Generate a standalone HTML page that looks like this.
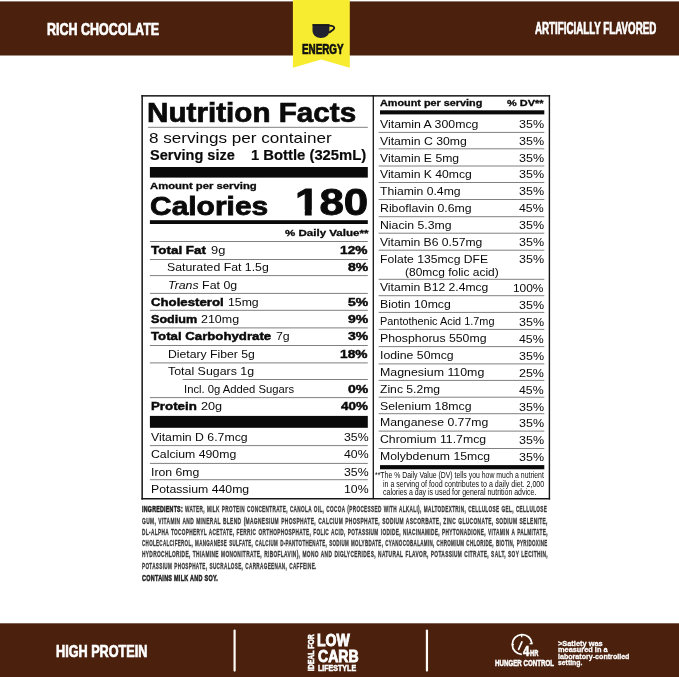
<!DOCTYPE html>
<html lang="en"><head><meta charset="utf-8"><title>Nutrition Facts</title>
<style>
html,body{margin:0;padding:0;background:#fff;}
body{width:679px;height:677px;position:relative;overflow:hidden;font-family:"Liberation Sans",sans-serif;}
.t{position:absolute;white-space:nowrap;line-height:1;display:block;transform-origin:0 0;}
.t b{font-weight:700;}
svg{position:absolute;display:block;overflow:visible;}
</style></head>
<body>

<svg style="left:0;top:0" width="679" height="677" viewBox="0 0 679 677">
  <rect x="0.00" y="1.40" width="679.00" height="54.10" fill="#4b210e"/>
  <rect x="0.00" y="623.30" width="679.00" height="53.70" fill="#4b210e"/>
  <rect x="141.40" y="95.10" width="408.70" height="1.50" fill="#161616"/>
  <rect x="141.40" y="498.00" width="408.70" height="1.50" fill="#161616"/>
  <rect x="141.40" y="95.10" width="1.50" height="404.40" fill="#161616"/>
  <rect x="548.70" y="95.10" width="1.40" height="404.40" fill="#161616"/>
  <rect x="372.65" y="95.10" width="1.30" height="404.00" fill="#161616"/>
  <rect x="148.00" y="126.80" width="219.80" height="1.00" fill="#808080"/>
  <rect x="149.90" y="167.00" width="217.90" height="10.60" fill="#0a0a0a"/>
  <rect x="149.90" y="220.20" width="217.90" height="3.80" fill="#0a0a0a"/>
  <rect x="149.90" y="241.00" width="217.90" height="1.00" fill="#808080"/>
  <rect x="149.90" y="259.00" width="217.90" height="1.00" fill="#808080"/>
  <rect x="149.90" y="275.10" width="217.90" height="1.00" fill="#808080"/>
  <rect x="149.90" y="292.90" width="217.90" height="1.00" fill="#808080"/>
  <rect x="149.90" y="309.80" width="217.90" height="1.00" fill="#808080"/>
  <rect x="149.90" y="327.40" width="217.90" height="1.00" fill="#808080"/>
  <rect x="149.90" y="345.00" width="217.90" height="1.00" fill="#808080"/>
  <rect x="149.90" y="362.40" width="217.90" height="1.00" fill="#808080"/>
  <rect x="182.70" y="379.00" width="185.10" height="1.00" fill="#808080"/>
  <rect x="149.90" y="397.10" width="217.90" height="1.00" fill="#808080"/>
  <rect x="149.90" y="415.90" width="217.90" height="11.90" fill="#0a0a0a"/>
  <rect x="149.90" y="445.10" width="217.90" height="1.00" fill="#808080"/>
  <rect x="149.90" y="462.90" width="217.90" height="1.00" fill="#808080"/>
  <rect x="149.90" y="479.20" width="217.90" height="1.00" fill="#808080"/>
  <rect x="380.00" y="110.30" width="164.30" height="4.10" fill="#0a0a0a"/>
  <rect x="378.60" y="131.90" width="165.70" height="1.00" fill="#808080"/>
  <rect x="378.60" y="148.30" width="165.70" height="1.00" fill="#808080"/>
  <rect x="378.60" y="165.50" width="165.70" height="1.00" fill="#808080"/>
  <rect x="378.60" y="182.00" width="165.70" height="1.00" fill="#808080"/>
  <rect x="378.60" y="199.00" width="165.70" height="1.00" fill="#808080"/>
  <rect x="378.60" y="216.20" width="165.70" height="1.00" fill="#808080"/>
  <rect x="378.60" y="232.70" width="165.70" height="1.00" fill="#808080"/>
  <rect x="378.60" y="249.70" width="165.70" height="1.00" fill="#808080"/>
  <rect x="378.60" y="278.80" width="165.70" height="1.00" fill="#808080"/>
  <rect x="378.60" y="295.20" width="165.70" height="1.00" fill="#808080"/>
  <rect x="378.60" y="311.90" width="165.70" height="1.00" fill="#808080"/>
  <rect x="378.60" y="328.90" width="165.70" height="1.00" fill="#808080"/>
  <rect x="378.60" y="346.10" width="165.70" height="1.00" fill="#808080"/>
  <rect x="378.60" y="363.40" width="165.70" height="1.00" fill="#808080"/>
  <rect x="378.60" y="379.90" width="165.70" height="1.00" fill="#808080"/>
  <rect x="378.60" y="396.70" width="165.70" height="1.00" fill="#808080"/>
  <rect x="378.60" y="413.20" width="165.70" height="1.00" fill="#808080"/>
  <rect x="378.60" y="430.60" width="165.70" height="1.00" fill="#808080"/>
  <rect x="378.60" y="448.00" width="165.70" height="1.00" fill="#808080"/>
  <rect x="380.00" y="465.10" width="164.30" height="4.20" fill="#0a0a0a"/>

  <polygon points="292.9,0 349.8,0 349.8,67.7 321.2,59.5 292.9,67.7" fill="#f7ec2f"/>
  <!-- cup -->
  <g>
    <path d="M312.5,24.3 H329.4 V30.4 C329.4,35 325.6,37.9 320.95,37.9 C316.3,37.9 312.5,35 312.5,30.4 Z" fill="#222130"/>
    <path d="M312.5,24.9 H329.4" stroke="#111" stroke-width="1.2" fill="none"/>
    <path d="M329,25.6 L331.8,25.9 C334.3,26.3 334.9,28.1 333.4,29.4 L329,32.8" fill="none" stroke="#19181f" stroke-width="1.9" stroke-linejoin="round"/>
  </g>
  <rect x="233.5" y="629.4" width="2.2" height="42.3" rx="1.1" fill="#fffaf5"/>
  <rect x="425.85" y="629.4" width="2.2" height="42.3" rx="1.1" fill="#fffaf5"/>
  <!-- clock -->
  <g fill="none" stroke="#fff" stroke-width="1.8" stroke-linecap="butt">
    <path d="M521.8,654.4 A9.9,9.9 0 1 1 532,643.6"/>
    <path d="M521.7,634.6 L521.7,637.2" stroke-width="1.3"/>
    <path d="M529.6,643.7 L532.6,643.7" stroke-width="1.3"/>
    <path d="M512,644.6 L514,644.6" stroke-width="1.2"/>
    <path d="M518.6,649.4 L521.9,641.8" stroke-width="1.7" stroke-linecap="round"/>
  </g>
  <text transform="translate(313.8,671.2) rotate(-90)" font-family="Liberation Sans, sans-serif" font-weight="700" font-size="8.9" fill="#fff" stroke="#fff" stroke-width="0.5" textLength="37" lengthAdjust="spacingAndGlyphs">IDEAL FOR</text>
</svg>
<span class="t" style="left:47.23px;top:22px;font-size:16.6px;color:#ffffff;font-weight:700;-webkit-text-stroke:0.7px #ffffff;transform:scaleX(0.7524);">RICH CHOCOLATE</span>
<span class="t" style="left:534.81px;top:21px;font-size:16.0px;color:#ffffff;font-weight:700;-webkit-text-stroke:0.7px #ffffff;transform:scaleX(0.6101);">ARTIFICIALLY FLAVORED</span>
<span class="t" style="left:301.50px;top:42px;font-size:14.2px;color:#111;font-weight:700;-webkit-text-stroke:0.7px #111;transform:scaleX(0.6943);">ENERGY</span>
<span class="t" style="left:56.33px;top:643px;font-size:16.4px;color:#ffffff;font-weight:700;-webkit-text-stroke:0.7px #ffffff;transform:scaleX(0.7723);">HIGH PROTEIN</span>
<span class="t" style="left:317.43px;top:632px;font-size:17.1px;color:#ffffff;font-weight:700;-webkit-text-stroke:0.9px #ffffff;transform:scaleX(0.8201);">LOW</span>
<span class="t" style="left:317.78px;top:648px;font-size:17.1px;color:#ffffff;font-weight:700;-webkit-text-stroke:0.9px #ffffff;transform:scaleX(0.8217);">CARB</span>
<span class="t" style="left:317.78px;top:664px;font-size:8.4px;color:#ffffff;font-weight:700;-webkit-text-stroke:0.5px #ffffff;transform:scaleX(0.8440);">LIFESTYLE</span>
<span class="t" style="left:494.71px;top:659px;font-size:8.4px;color:#ffffff;font-weight:700;-webkit-text-stroke:0.5px #ffffff;transform:scaleX(0.7377);">HUNGER CONTROL</span>
<span class="t" style="left:523.16px;top:644px;font-size:14.4px;color:#ffffff;font-weight:700;-webkit-text-stroke:0.6px #ffffff;transform:scaleX(0.7954);">4</span>
<span class="t" style="left:530.32px;top:649px;font-size:8.8px;color:#ffffff;font-weight:700;-webkit-text-stroke:0.5px #ffffff;transform:scaleX(0.6536);">HR</span>
<span class="t" style="left:557.64px;top:640px;font-size:7.9px;color:#ffffff;font-weight:700;-webkit-text-stroke:0.3px #ffffff;transform:scaleX(0.9378);">&gt;Satiety was</span>
<span class="t" style="left:557.70px;top:646px;font-size:7.9px;color:#ffffff;font-weight:700;-webkit-text-stroke:0.3px #ffffff;transform:scaleX(0.9333);">measured in a</span>
<span class="t" style="left:557.69px;top:653px;font-size:7.9px;color:#ffffff;font-weight:700;-webkit-text-stroke:0.3px #ffffff;transform:scaleX(0.9005);">laboratory-controlled</span>
<span class="t" style="left:557.65px;top:659px;font-size:7.9px;color:#ffffff;font-weight:700;-webkit-text-stroke:0.3px #ffffff;transform:scaleX(0.8674);">setting.</span>
<span class="t" style="left:146.98px;top:99px;font-size:27.4px;color:#0a0a0a;font-weight:700;-webkit-text-stroke:0.7px #0a0a0a;transform:scaleX(1.0825);">Nutrition Facts</span>
<span class="t" style="left:149.48px;top:131px;font-size:14.4px;color:#0a0a0a;transform:scaleX(1.1894);">8 servings per container</span>
<span class="t" style="left:149.51px;top:148px;font-size:14.9px;color:#0a0a0a;font-weight:700;-webkit-text-stroke:0.2px #0a0a0a;transform:scaleX(0.9759);">Serving size</span>
<span class="t" style="left:251.02px;top:148px;font-size:14.9px;color:#0a0a0a;font-weight:700;-webkit-text-stroke:0.2px #0a0a0a;transform:scaleX(0.9950);">1 Bottle (325mL)</span>
<span class="t" style="left:149.58px;top:181px;font-size:9.4px;color:#0a0a0a;font-weight:700;-webkit-text-stroke:0.3px #0a0a0a;transform:scaleX(1.2050);">Amount per serving</span>
<span class="t" style="left:150.15px;top:193px;font-size:26.5px;color:#0a0a0a;font-weight:700;-webkit-text-stroke:0.8px #0a0a0a;transform:scaleX(1.1302);">Calories</span>
<span class="t" style="left:294.66px;top:184px;font-size:37.4px;color:#0a0a0a;font-weight:700;-webkit-text-stroke:0.9px #0a0a0a;transform:scaleX(1.1740);">180</span>
<span class="t" style="left:284.53px;top:228px;font-size:9.4px;color:#0a0a0a;font-weight:700;-webkit-text-stroke:0.3px #0a0a0a;transform:scaleX(1.2311);">% Daily Value**</span>
<span class="t" style="left:151.42px;top:245px;font-size:11.4px;color:#0a0a0a;font-weight:700;-webkit-text-stroke:0.45px #0a0a0a;transform:scaleX(1.1801);">Total Fat</span>
<span class="t" style="left:210.84px;top:245px;font-size:11.8px;color:#0a0a0a;transform:scaleX(1.0889);">9g</span>
<span class="t" style="left:340.22px;top:245px;font-size:11.4px;color:#0a0a0a;font-weight:700;-webkit-text-stroke:0.45px #0a0a0a;transform:scaleX(1.2041);">12%</span>
<span class="t" style="left:167.31px;top:262px;font-size:11.8px;color:#0a0a0a;transform:scaleX(1.0411);">Saturated Fat 1.5g</span>
<span class="t" style="left:347.61px;top:262px;font-size:11.4px;color:#0a0a0a;font-weight:700;-webkit-text-stroke:0.45px #0a0a0a;transform:scaleX(1.2267);">8%</span>
<span class="t" style="left:167.85px;top:280px;font-size:11.8px;color:#0a0a0a;transform:scaleX(1.0472);"><i>Trans</i> Fat 0g</span>
<span class="t" style="left:150.95px;top:297px;font-size:11.4px;color:#0a0a0a;font-weight:700;-webkit-text-stroke:0.45px #0a0a0a;transform:scaleX(1.1589);">Cholesterol</span>
<span class="t" style="left:227.53px;top:297px;font-size:11.8px;color:#0a0a0a;transform:scaleX(1.0388);">15mg</span>
<span class="t" style="left:347.59px;top:297px;font-size:11.4px;color:#0a0a0a;font-weight:700;-webkit-text-stroke:0.45px #0a0a0a;transform:scaleX(1.2279);">5%</span>
<span class="t" style="left:151.04px;top:314px;font-size:11.4px;color:#0a0a0a;font-weight:700;-webkit-text-stroke:0.45px #0a0a0a;transform:scaleX(1.1076);">Sodium</span>
<span class="t" style="left:201.05px;top:314px;font-size:11.8px;color:#0a0a0a;transform:scaleX(1.0564);">210mg</span>
<span class="t" style="left:347.58px;top:314px;font-size:11.4px;color:#0a0a0a;font-weight:700;-webkit-text-stroke:0.45px #0a0a0a;transform:scaleX(1.2285);">9%</span>
<span class="t" style="left:151.41px;top:331px;font-size:11.4px;color:#0a0a0a;font-weight:700;-webkit-text-stroke:0.45px #0a0a0a;transform:scaleX(1.1601);">Total Carbohydrate</span>
<span class="t" style="left:276.16px;top:331px;font-size:11.8px;color:#0a0a0a;transform:scaleX(1.0470);">7g</span>
<span class="t" style="left:347.58px;top:331px;font-size:11.4px;color:#0a0a0a;font-weight:700;-webkit-text-stroke:0.45px #0a0a0a;transform:scaleX(1.2288);">3%</span>
<span class="t" style="left:167.56px;top:349px;font-size:11.8px;color:#0a0a0a;transform:scaleX(1.0354);">Dietary Fiber 5g</span>
<span class="t" style="left:340.22px;top:349px;font-size:11.4px;color:#0a0a0a;font-weight:700;-webkit-text-stroke:0.45px #0a0a0a;transform:scaleX(1.2041);">18%</span>
<span class="t" style="left:167.82px;top:366px;font-size:11.8px;color:#0a0a0a;transform:scaleX(1.0506);">Total Sugars 1g</span>
<span class="t" style="left:184.24px;top:384px;font-size:11.8px;color:#0a0a0a;transform:scaleX(0.9546);">Incl. 0g Added Sugars</span>
<span class="t" style="left:347.56px;top:384px;font-size:11.4px;color:#0a0a0a;font-weight:700;-webkit-text-stroke:0.45px #0a0a0a;transform:scaleX(1.2297);">0%</span>
<span class="t" style="left:150.81px;top:401px;font-size:11.4px;color:#0a0a0a;font-weight:700;-webkit-text-stroke:0.45px #0a0a0a;transform:scaleX(1.1664);">Protein</span>
<span class="t" style="left:200.53px;top:401px;font-size:11.8px;color:#0a0a0a;transform:scaleX(1.0756);">20g</span>
<span class="t" style="left:340.76px;top:401px;font-size:11.4px;color:#0a0a0a;font-weight:700;-webkit-text-stroke:0.45px #0a0a0a;transform:scaleX(1.1804);">40%</span>
<span class="t" style="left:151.42px;top:432px;font-size:11.8px;color:#0a0a0a;transform:scaleX(1.0400);">Vitamin D 6.7mcg</span>
<span class="t" style="left:343.74px;top:432px;font-size:11.8px;color:#0a0a0a;transform:scaleX(1.0400);">35%</span>
<span class="t" style="left:151.03px;top:449px;font-size:11.8px;color:#0a0a0a;transform:scaleX(1.0400);">Calcium 490mg</span>
<span class="t" style="left:343.74px;top:449px;font-size:11.8px;color:#0a0a0a;transform:scaleX(1.0400);">40%</span>
<span class="t" style="left:150.54px;top:467px;font-size:11.8px;color:#0a0a0a;transform:scaleX(1.0400);">Iron 6mg</span>
<span class="t" style="left:343.74px;top:467px;font-size:11.8px;color:#0a0a0a;transform:scaleX(1.0400);">35%</span>
<span class="t" style="left:150.66px;top:484px;font-size:11.8px;color:#0a0a0a;transform:scaleX(1.0400);">Potassium 440mg</span>
<span class="t" style="left:343.74px;top:484px;font-size:11.8px;color:#0a0a0a;transform:scaleX(1.0400);">10%</span>
<span class="t" style="left:379.90px;top:98px;font-size:9.4px;color:#0a0a0a;font-weight:700;-webkit-text-stroke:0.3px #0a0a0a;transform:scaleX(1.1548);">Amount per serving</span>
<span class="t" style="left:507.44px;top:98px;font-size:9.4px;color:#0a0a0a;font-weight:700;-webkit-text-stroke:0.3px #0a0a0a;transform:scaleX(1.1661);">% DV**</span>
<span class="t" style="left:380.42px;top:119px;font-size:11.8px;color:#0a0a0a;transform:scaleX(1.0446);">Vitamin A 300mcg</span>
<span class="t" style="left:519.07px;top:119px;font-size:11.8px;color:#0a0a0a;transform:scaleX(1.0608);">35%</span>
<span class="t" style="left:380.42px;top:136px;font-size:11.8px;color:#0a0a0a;transform:scaleX(1.0371);">Vitamin C 30mg</span>
<span class="t" style="left:519.07px;top:136px;font-size:11.8px;color:#0a0a0a;transform:scaleX(1.0608);">35%</span>
<span class="t" style="left:380.42px;top:153px;font-size:11.8px;color:#0a0a0a;transform:scaleX(1.0347);">Vitamin E 5mg</span>
<span class="t" style="left:519.07px;top:153px;font-size:11.8px;color:#0a0a0a;transform:scaleX(1.0608);">35%</span>
<span class="t" style="left:380.42px;top:169px;font-size:11.8px;color:#0a0a0a;transform:scaleX(1.0330);">Vitamin K 40mcg</span>
<span class="t" style="left:519.07px;top:169px;font-size:11.8px;color:#0a0a0a;transform:scaleX(1.0608);">35%</span>
<span class="t" style="left:380.23px;top:186px;font-size:11.8px;color:#0a0a0a;transform:scaleX(1.0324);">Thiamin 0.4mg</span>
<span class="t" style="left:519.07px;top:186px;font-size:11.8px;color:#0a0a0a;transform:scaleX(1.0608);">35%</span>
<span class="t" style="left:379.66px;top:203px;font-size:11.8px;color:#0a0a0a;transform:scaleX(1.0430);">Riboflavin 0.6mg</span>
<span class="t" style="left:519.48px;top:203px;font-size:11.8px;color:#0a0a0a;transform:scaleX(1.0427);">45%</span>
<span class="t" style="left:379.66px;top:220px;font-size:11.8px;color:#0a0a0a;transform:scaleX(1.0388);">Niacin 5.3mg</span>
<span class="t" style="left:519.07px;top:220px;font-size:11.8px;color:#0a0a0a;transform:scaleX(1.0608);">35%</span>
<span class="t" style="left:380.42px;top:237px;font-size:11.8px;color:#0a0a0a;transform:scaleX(1.0287);">Vitamin B6 0.57mg</span>
<span class="t" style="left:519.07px;top:237px;font-size:11.8px;color:#0a0a0a;transform:scaleX(1.0608);">35%</span>
<span class="t" style="left:379.67px;top:254px;font-size:11.8px;color:#0a0a0a;transform:scaleX(1.0303);">Folate 135mcg DFE</span>
<span class="t" style="left:519.07px;top:254px;font-size:11.8px;color:#0a0a0a;transform:scaleX(1.0608);">35%</span>
<span class="t" style="left:405.31px;top:267px;font-size:11.8px;color:#0a0a0a;transform:scaleX(1.0136);">(80mcg folic acid)</span>
<span class="t" style="left:380.42px;top:282px;font-size:11.8px;color:#0a0a0a;transform:scaleX(1.0284);">Vitamin B12 2.4mcg</span>
<span class="t" style="left:513.26px;top:283px;font-size:11.8px;color:#0a0a0a;transform:scaleX(1.0093);">100%</span>
<span class="t" style="left:379.66px;top:299px;font-size:11.8px;color:#0a0a0a;transform:scaleX(1.0374);">Biotin 10mcg</span>
<span class="t" style="left:519.07px;top:300px;font-size:11.8px;color:#0a0a0a;transform:scaleX(1.0608);">35%</span>
<span class="t" style="left:379.78px;top:316px;font-size:11.8px;color:#0a0a0a;transform:scaleX(0.9234);">Pantothenic Acid 1.7mg</span>
<span class="t" style="left:519.07px;top:317px;font-size:11.8px;color:#0a0a0a;transform:scaleX(1.0608);">35%</span>
<span class="t" style="left:379.66px;top:333px;font-size:11.8px;color:#0a0a0a;transform:scaleX(1.0407);">Phosphorus 550mg</span>
<span class="t" style="left:519.48px;top:334px;font-size:11.8px;color:#0a0a0a;transform:scaleX(1.0427);">45%</span>
<span class="t" style="left:379.54px;top:350px;font-size:11.8px;color:#0a0a0a;transform:scaleX(1.0394);">Iodine 50mcg</span>
<span class="t" style="left:519.07px;top:351px;font-size:11.8px;color:#0a0a0a;transform:scaleX(1.0608);">35%</span>
<span class="t" style="left:379.65px;top:367px;font-size:11.8px;color:#0a0a0a;transform:scaleX(1.0486);">Magnesium 110mg</span>
<span class="t" style="left:519.14px;top:368px;font-size:11.8px;color:#0a0a0a;transform:scaleX(1.0574);">25%</span>
<span class="t" style="left:380.27px;top:384px;font-size:11.8px;color:#0a0a0a;transform:scaleX(1.0299);">Zinc 5.2mg</span>
<span class="t" style="left:519.48px;top:385px;font-size:11.8px;color:#0a0a0a;transform:scaleX(1.0427);">45%</span>
<span class="t" style="left:379.81px;top:401px;font-size:11.8px;color:#0a0a0a;transform:scaleX(1.0413);">Selenium 18mcg</span>
<span class="t" style="left:519.07px;top:402px;font-size:11.8px;color:#0a0a0a;transform:scaleX(1.0608);">35%</span>
<span class="t" style="left:379.66px;top:417px;font-size:11.8px;color:#0a0a0a;transform:scaleX(1.0379);">Manganese 0.77mg</span>
<span class="t" style="left:519.07px;top:418px;font-size:11.8px;color:#0a0a0a;transform:scaleX(1.0608);">35%</span>
<span class="t" style="left:380.03px;top:434px;font-size:11.8px;color:#0a0a0a;transform:scaleX(1.0395);">Chromium 11.7mcg</span>
<span class="t" style="left:519.07px;top:435px;font-size:11.8px;color:#0a0a0a;transform:scaleX(1.0608);">35%</span>
<span class="t" style="left:379.66px;top:451px;font-size:11.8px;color:#0a0a0a;transform:scaleX(1.0363);">Molybdenum 15mcg</span>
<span class="t" style="left:519.07px;top:452px;font-size:11.8px;color:#0a0a0a;transform:scaleX(1.0608);">35%</span>
<span class="t" style="left:375.37px;top:471px;font-size:8.6px;color:#0a0a0a;transform:scaleX(0.8021);">**The % Daily Value (DV) tells you how much a nutrient</span>
<span class="t" style="left:383.32px;top:480px;font-size:8.6px;color:#0a0a0a;transform:scaleX(0.8209);">in a serving of food contributes to a daily diet. 2,000</span>
<span class="t" style="left:383.47px;top:488px;font-size:8.6px;color:#0a0a0a;transform:scaleX(0.8127);">calories a day is used for general nutrition advice.</span>
<span class="t" style="left:185.06px;top:504px;font-size:9.7px;color:#3c3c3c;font-weight:700;-webkit-text-stroke:0.35px #3c3c3c;letter-spacing:0.7px;transform:scaleX(0.4817);word-spacing:1px;">WATER, MILK PROTEIN CONCENTRATE, CANOLA OIL, COCOA (PROCESSED WITH ALKALI), MALTODEXTRIN, CELLULOSE GEL, CELLULOSE</span>
<span class="t" style="left:141.54px;top:516px;font-size:9.7px;color:#3c3c3c;font-weight:700;-webkit-text-stroke:0.35px #3c3c3c;letter-spacing:0.7px;transform:scaleX(0.5019);word-spacing:1px;">GUM, VITAMIN AND MINERAL BLEND (MAGNESIUM PHOSPHATE, CALCIUM PHOSPHATE, SODIUM ASCORBATE, ZINC GLUCONATE, SODIUM SELENITE,</span>
<span class="t" style="left:141.51px;top:527px;font-size:9.7px;color:#3c3c3c;font-weight:700;-webkit-text-stroke:0.35px #3c3c3c;letter-spacing:0.7px;transform:scaleX(0.4884);word-spacing:1px;">DL-ALPHA TOCOPHERYL ACETATE, FERRIC ORTHOPHOSPHATE, FOLIC ACID, POTASSIUM IODIDE, NIACINAMIDE, PHYTONADIONE, VITAMIN A PALMITATE,</span>
<span class="t" style="left:141.55px;top:538px;font-size:9.7px;color:#3c3c3c;font-weight:700;-webkit-text-stroke:0.35px #3c3c3c;letter-spacing:0.7px;transform:scaleX(0.4630);word-spacing:1px;">CHOLECALCIFEROL, MANGANESE SULFATE, CALCIUM D-PANTOTHENATE, SODIUM MOLYBDATE, CYANOCOBALAMIN, CHROMIUM CHLORIDE, BIOTIN, PYRIDOXINE</span>
<span class="t" style="left:141.50px;top:549px;font-size:9.7px;color:#3c3c3c;font-weight:700;-webkit-text-stroke:0.35px #3c3c3c;letter-spacing:0.7px;transform:scaleX(0.4962);word-spacing:1px;">HYDROCHLORIDE, THIAMINE MONONITRATE, RIBOFLAVIN), MONO AND DIGLYCERIDES, NATURAL FLAVOR, POTASSIUM CITRATE, SALT, SOY LECITHIN,</span>
<span class="t" style="left:141.51px;top:561px;font-size:9.7px;color:#3c3c3c;font-weight:700;-webkit-text-stroke:0.35px #3c3c3c;letter-spacing:0.7px;transform:scaleX(0.4780);word-spacing:1px;">POTASSIUM PHOSPHATE, SUCRALOSE, CARRAGEENAN, CAFFEINE.</span>
<span class="t" style="left:141.56px;top:504px;font-size:9.7px;color:#222;font-weight:700;-webkit-text-stroke:0.6px #222;letter-spacing:0.5px;transform:scaleX(0.5424);">INGREDIENTS:</span>
<span class="t" style="left:141.57px;top:573px;font-size:9.7px;color:#222;font-weight:700;-webkit-text-stroke:0.55px #222;letter-spacing:0.5px;transform:scaleX(0.5616);">CONTAINS MILK AND SOY.</span>
<svg style="left:0;top:0" width="679" height="677" viewBox="0 0 679 677">
  <rect x="295.50" y="209.70" width="9.30" height="7.00" fill="#fff"/>
  <rect x="311.70" y="209.70" width="8.20" height="7.00" fill="#fff"/>
</svg>
</body></html>
